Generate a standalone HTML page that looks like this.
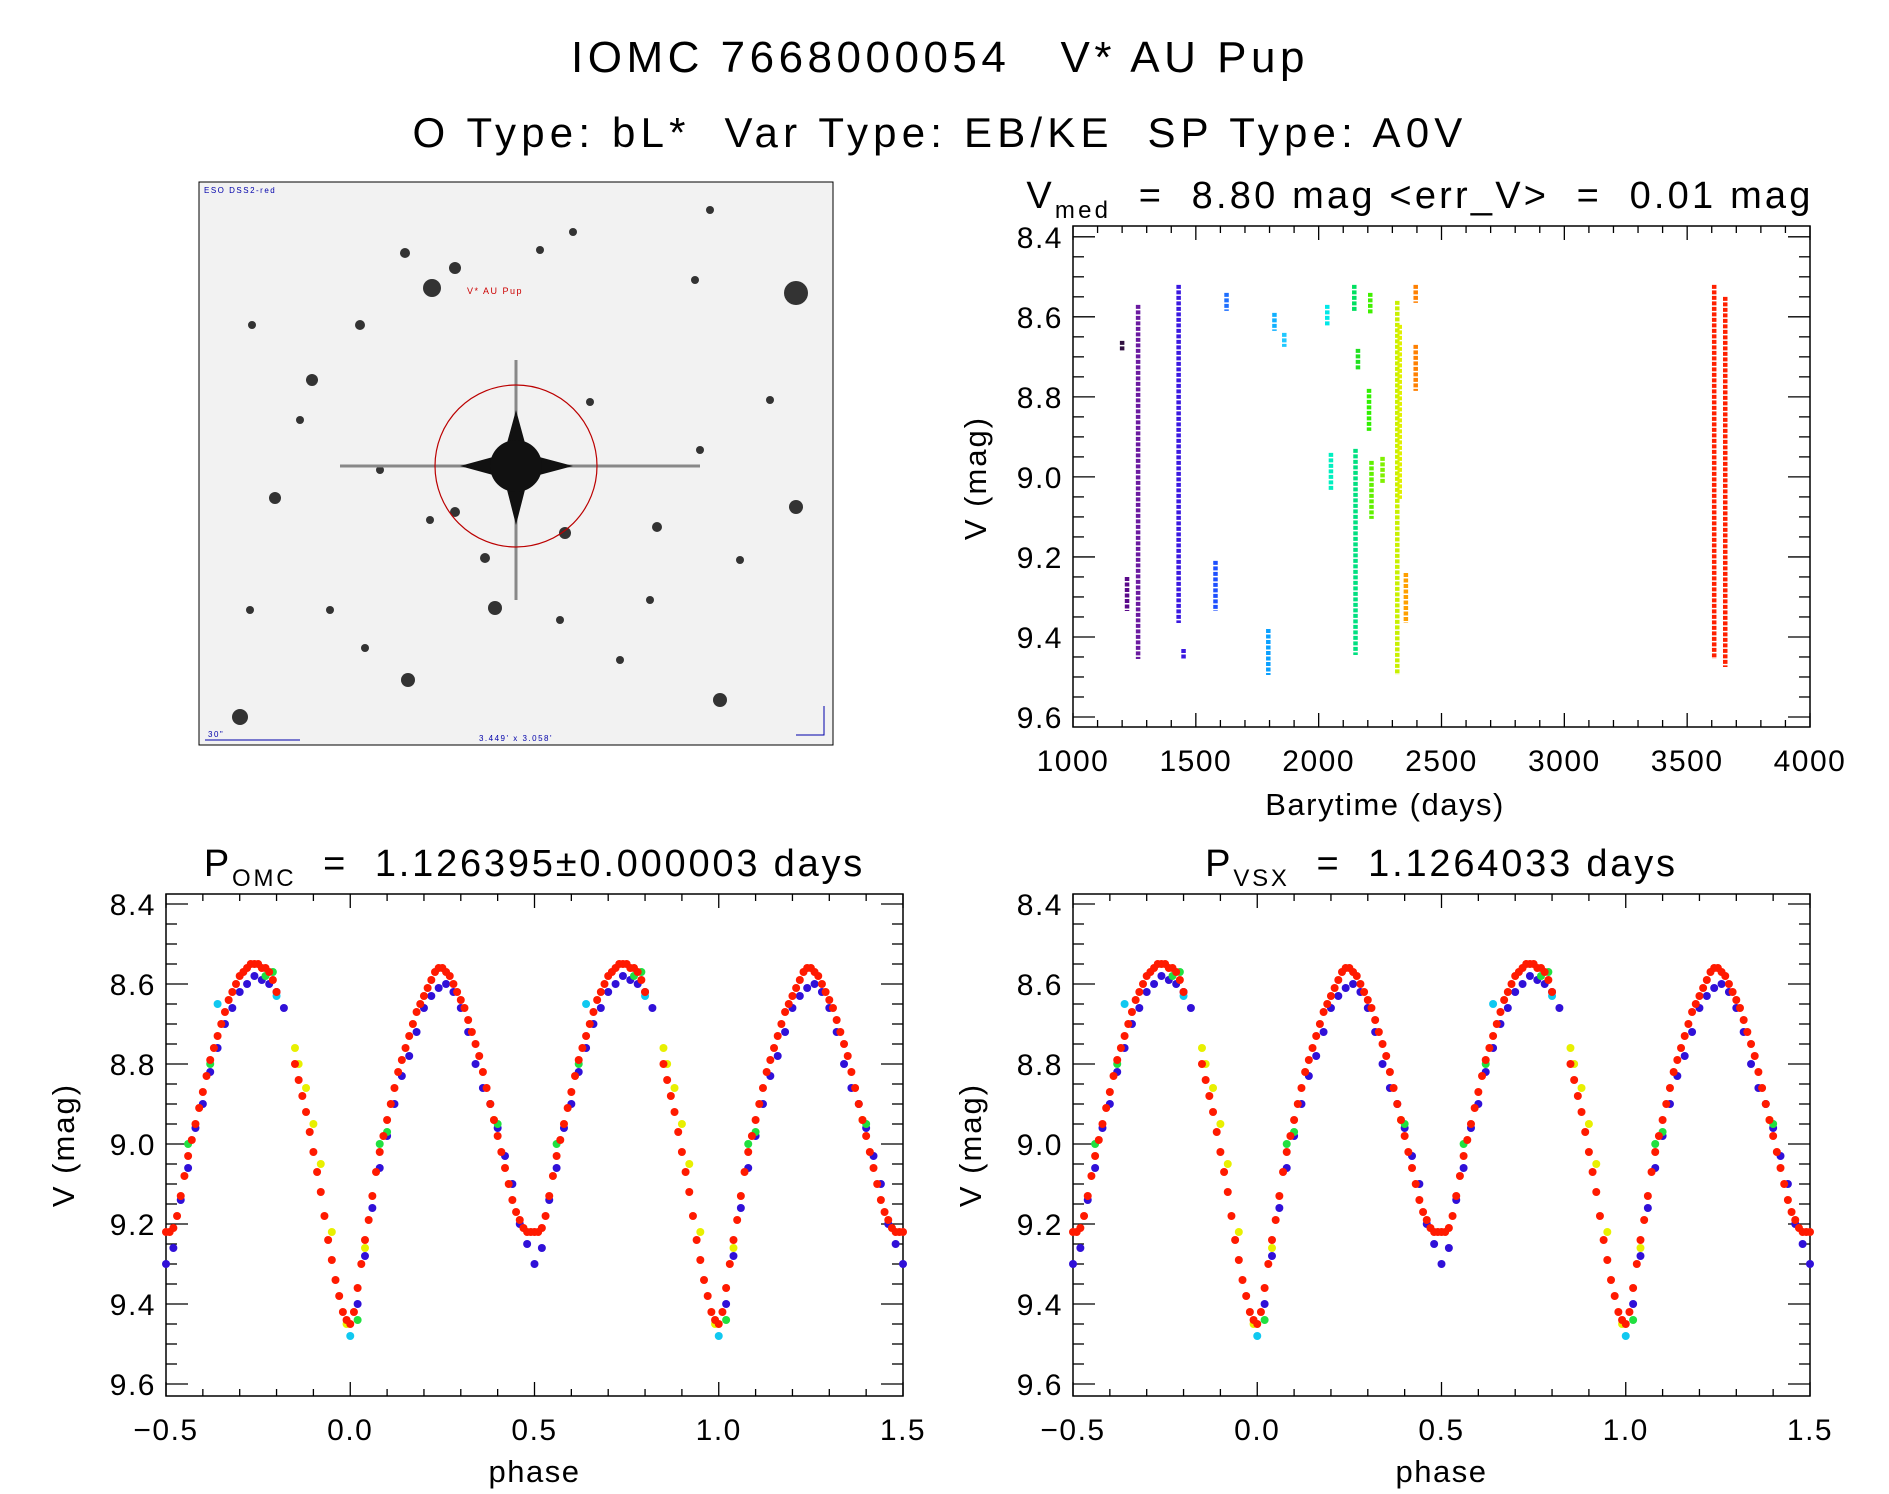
<!DOCTYPE html>
<html><head><meta charset="utf-8"><style>
body{margin:0;background:#fff;width:1889px;height:1494px;overflow:hidden;font-family:"Liberation Sans",sans-serif}
svg{position:absolute;left:0;top:0}
</style></head><body>
<svg id="s" width="1889" height="1494" viewBox="0 0 1889 1494" font-family="Liberation Sans, sans-serif">
<text x="940" y="72" font-size="44" letter-spacing="4.5" text-anchor="middle">IOMC 7668000054 &#160;&#160;V* AU Pup</text>
<text x="940" y="147" font-size="42" letter-spacing="5.2" text-anchor="middle">O Type: bL*&#160;&#160;Var Type: EB/KE&#160;&#160;SP Type: A0V</text>
<g id="img"></g>
<g id="ts"></g>
<g id="p1"></g>
<g id="p2"></g>
</svg>
<script>
// ---- time-series data (strips of observations) ----
const tsTimes=[1200,1220,1265,1430,1450,1580,1625,1795,1820,1860,2035,2050,2145,2150,2160,2205,2210,2215,2260,2320,2330,2355,2395,2395,3610,3655];
const tsMagMin=[8.66,9.25,8.57,8.52,9.43,9.21,8.54,9.38,8.59,8.64,8.57,8.94,8.52,8.93,8.68,8.78,8.54,8.96,8.95,8.56,8.62,9.24,8.52,8.67,8.52,8.55];
const tsMagMax=[8.68,9.33,9.45,9.36,9.45,9.33,8.58,9.49,8.63,8.67,8.62,9.03,8.58,9.44,8.73,8.88,8.59,9.10,9.01,9.49,9.05,9.36,8.56,8.78,9.45,9.47];
const tsColors=["#301040","#5a0a8a","#6a1aa0","#3a18e0","#3a18e0","#1d4fff","#1d6fff","#0aa0ff","#10b0ff","#20c8ff","#00e8e8","#00f0c0","#00e060","#00e080","#20e020","#30f000","#40f000","#60f000","#80f000","#c8f000","#e0f000","#ffa000","#ff8000","#ff8000","#ff2000","#ff2000"];
const tsXTicks=[1000,1500,2000,2500,3000,3500,4000];
const magTicks=[8.4,8.6,8.8,9.0,9.2,9.4,9.6];
const phaseTicks=[-0.5,0.0,0.5,1.0,1.5];
// ---- phase curve data ----
const redPhase=[0,.01,.02,.03,.04,.05,.06,.07,.08,.09,.10,.11,.12,.13,.14,.15,.16,.17,.18,.19,.20,.21,.22,.23,.24,.25,.26,.27,.28,.29,.30,.31,.32,.33,.34,.35,.36,.37,.38,.39,.40,.41,.42,.43,.44,.45,.46,.47,.48,.49,.50,.51,.52,.53,.54,.55,.56,.57,.58,.59,.60,.61,.62,.63,.64,.65,.66,.67,.68,.69,.70,.71,.72,.73,.74,.75,.76,.77,.78,.79,.80,.85,.86,.87,.88,.89,.90,.91,.92,.93,.94,.95,.96,.97,.98,.99];
const redMag=[9.45,9.42,9.36,9.30,9.24,9.19,9.13,9.07,9.02,8.98,8.94,8.90,8.86,8.82,8.79,8.76,8.73,8.70,8.67,8.65,8.63,8.61,8.59,8.57,8.56,8.56,8.57,8.58,8.60,8.62,8.64,8.66,8.69,8.72,8.75,8.78,8.82,8.86,8.90,8.94,8.98,9.02,9.06,9.10,9.14,9.17,9.19,9.21,9.22,9.22,9.22,9.22,9.21,9.18,9.13,9.08,9.03,8.99,8.95,8.91,8.87,8.83,8.79,8.76,8.73,8.70,8.67,8.64,8.62,8.60,8.58,8.57,8.56,8.55,8.55,8.55,8.56,8.56,8.57,8.59,8.62,8.80,8.84,8.88,8.92,8.97,9.02,9.07,9.12,9.18,9.24,9.29,9.34,9.38,9.42,9.44];
const bluePhase=[.02,.04,.06,.08,.10,.12,.14,.16,.18,.20,.22,.24,.26,.28,.30,.32,.34,.36,.38,.40,.42,.44,.46,.48,.50,.52,.54,.56,.58,.60,.62,.64,.66,.68,.70,.72,.74,.76,.78,.80,.82];
const blueMag=[9.40,9.28,9.16,9.06,8.98,8.90,8.83,8.78,8.72,8.66,8.63,8.61,8.60,8.62,8.66,8.72,8.80,8.86,8.90,8.96,9.03,9.10,9.20,9.25,9.30,9.26,9.14,9.06,8.96,8.90,8.82,8.76,8.70,8.66,8.62,8.60,8.58,8.59,8.60,8.62,8.66];
const yellowPhase=[.85,.86,.88,.90,.92,.95,.04,.39,.99];
const yellowMag=[8.76,8.80,8.86,8.95,9.05,9.22,9.26,8.94,9.45];
const greenPhase=[.02,.08,.10,.40,.62,.77,.79,.56];
const greenMag=[9.44,9.00,8.97,8.95,8.80,8.58,8.57,9.00];
const cyanPhase=[.64,.80,.00];
const cyanMag=[8.65,8.63,9.48];

const NS="http://www.w3.org/2000/svg";
function mk(parent,tag,attrs,name){const e=document.createElementNS(NS,tag);for(const k in attrs)e.setAttribute(k,attrs[k]);


parent.appendChild(e);return e;}
function txt(parent,x,y,s,size,anchor,name){const t=mk(parent,'text',{x:x,y:y,'font-size':size,'text-anchor':anchor,'letter-spacing':1.5},name);t.textContent=s;return t;}

function axes(g,L,R,T,B,xmin,xmax,xmajor,xminor,xTicks,xfmt,ymin,ymax,yTicks){
  const sx=v=>L+(v-xmin)/(xmax-xmin)*(R-L);
  const sy=v=>T+(v-ymin)/(ymax-ymin)*(B-T);
  mk(g,'rect',{x:L,y:T,width:R-L,height:B-T,fill:'none',stroke:'#000','stroke-width':1.5},'plot-frame');
  for(let v=xmin;v<=xmax+1e-9;v+=xminor){const x=sx(v);const maj=Math.abs(v/xmajor-Math.round(v/xmajor))<1e-6;const l=maj?14:7;
    mk(g,'line',{x1:x,y1:B,x2:x,y2:B-l,stroke:'#000','stroke-width':1.3},'x-tick');
    mk(g,'line',{x1:x,y1:T,x2:x,y2:T+l,stroke:'#000','stroke-width':1.3},'x-tick-top');}
  xTicks.forEach(v=>txt(g,sx(v),B+44,xfmt(v),30,'middle','x-tick-label'));
  for(let v=8.35;v<=ymax;v+=0.05){if(v<ymin)continue;const y=sy(v);const maj=Math.abs(v/0.2-Math.round(v/0.2))<1e-6;const l=maj?22:11;
    mk(g,'line',{x1:L,y1:y,x2:L+l,y2:y,stroke:'#000','stroke-width':1.3},'y-tick');
    mk(g,'line',{x1:R,y1:y,x2:R-l,y2:y,stroke:'#000','stroke-width':1.3},'y-tick-right');}
  yTicks.forEach(v=>txt(g,L-10,sy(v)+11,v.toFixed(1),30,'end','y-tick-label'));
  return {sx,sy};
}

// ---- time series ----
(function(){
  const g=document.getElementById('ts');
  const a=axes(g,1073,1810,226,727,1000,4000,500,100,tsXTicks,v=>String(v),8.373,9.625,magTicks);
  tsTimes.forEach((t,i)=>{const x=a.sx(t);
    mk(g,'line',{x1:x,y1:a.sy(tsMagMin[i]),x2:x,y2:a.sy(tsMagMax[i])+2,stroke:tsColors[i],'stroke-width':4.5,'stroke-dasharray':'4 1.5'},'obs-strip');});
  const t=mk(g,'text',{x:1420,y:208,'font-size':38,'text-anchor':'middle','letter-spacing':3.2},'ts-title');
  t.innerHTML='V<tspan font-size="24" dy="10">med</tspan><tspan dy="-10"> &#160;=&#160; 8.80 mag &lt;err_V&gt; &#160;=&#160; 0.01 mag</tspan>';
  txt(g,1385,815,'Barytime (days)',31,'middle','x-axis-title');
  mk(g,'text',{x:986,y:478,'font-size':31,'text-anchor':'middle','letter-spacing':2,transform:'rotate(-90 986 478)'},'y-axis-title').textContent='V (mag)';
})();

// ---- phase plots ----
function phasePlot(id,L,R,sub,rest){
  const g=document.getElementById(id);
  const a=axes(g,L,R,894,1396,-0.5,1.5,0.5,0.1,phaseTicks,v=>(v<0?'\u2212':'')+Math.abs(v).toFixed(1),8.375,9.63,magTicks);
  const series=[[bluePhase,blueMag,'#3010d8'],[yellowPhase,yellowMag,'#e8f000'],[greenPhase,greenMag,'#20e040'],[cyanPhase,cyanMag,'#10c8f0'],[redPhase,redMag,'#ff1a00']];
  series.forEach(s=>{s[0].forEach((p,i)=>{[-1,0,1].forEach(k=>{const ph=p+k;if(ph<-0.5||ph>1.5)return;
    mk(g,'circle',{cx:a.sx(ph),cy:a.sy(s[1][i]),r:4,fill:s[2]},'data-point');});});});
  const t=mk(g,'text',{x:(L+R)/2,y:876,'font-size':38,'text-anchor':'middle','letter-spacing':2.8},'phase-title');
  t.innerHTML='P<tspan font-size="24" dy="10">'+sub+'</tspan><tspan dy="-10"> &#160;=&#160; '+rest+'</tspan>';
  txt(g,(L+R)/2,1482,'phase',31,'middle','x-axis-title');
  const yx=L-92;
  mk(g,'text',{x:yx,y:1145,'font-size':31,'text-anchor':'middle','letter-spacing':2,transform:'rotate(-90 '+yx+' 1145)'},'y-axis-title').textContent='V (mag)';
}
phasePlot('p1',166,903,'OMC','1.126395\u00b10.000003 days');
phasePlot('p2',1073,1810,'VSX','1.1264033 days');

// ---- sky image ----
(function(){
  const g=document.getElementById('img');
  mk(g,'rect',{x:199,y:182,width:634,height:563,fill:'#f2f2f2',stroke:'#000','stroke-width':1},'image-frame');
  const stars=[[432,288,9],[796,293,12],[405,253,5],[455,268,6],[312,380,6],[275,498,6],[796,507,7],[240,717,8],[408,680,7],[720,700,7],[495,608,7],[565,533,6],[657,527,5],[360,325,5],[710,210,4],[573,232,4],[252,325,4],[590,402,4],[540,250,4],[485,558,5],[455,512,5],[365,648,4],[620,660,4],[695,280,4],[300,420,4],[740,560,4],[560,620,4],[430,520,4],[250,610,4],[650,600,4],[380,470,4],[700,450,4],[330,610,4],[770,400,4]];
  stars.forEach(s=>mk(g,'circle',{cx:s[0],cy:s[1],r:s[2],fill:'#333'},'star'));
  mk(g,'line',{x1:340,y1:466,x2:700,y2:466,stroke:'#888','stroke-width':3},'spike');
  mk(g,'line',{x1:516,y1:360,x2:516,y2:600,stroke:'#888','stroke-width':3},'spike');
  mk(g,'path',{d:'M516 410 L528 454 L573 466 L528 478 L516 525 L504 478 L460 466 L504 454 Z',fill:'#111'},'target-star');
  mk(g,'circle',{cx:516,cy:466,r:26,fill:'#111'},'target-core');
  mk(g,'circle',{cx:516,cy:466,r:81,fill:'none',stroke:'#b00','stroke-width':1.2},'target-circle');
  txt(g,495,294,'V* AU Pup',9,'middle','target-label').setAttribute('fill','#c00');
  txt(g,204,193,'ESO DSS2-red',8,'start','survey-label').setAttribute('fill','#00a');
  txt(g,516,741,"3.449' x 3.058'",8,'middle','fov-label').setAttribute('fill','#00a');
  mk(g,'line',{x1:205,y1:740,x2:300,y2:740,stroke:'#00a','stroke-width':1},'scale-bar');
  txt(g,208,737,'30"',8,'start','scale-label').setAttribute('fill','#00a');
  mk(g,'path',{d:'M824 706 L824 735 L796 735',fill:'none',stroke:'#00a','stroke-width':1},'compass');
})();
</script>
</body></html>
